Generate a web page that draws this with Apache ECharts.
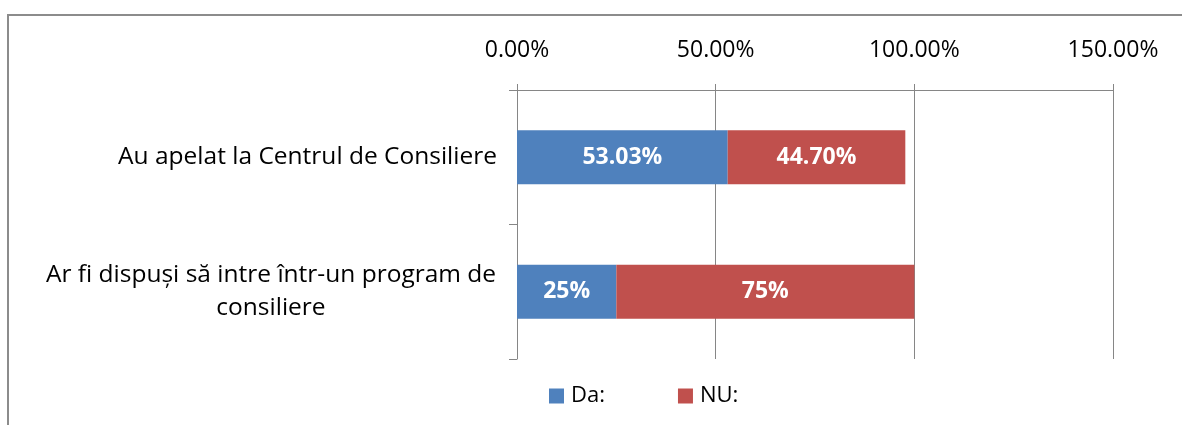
<!DOCTYPE html>
<html lang="ro">
	<head>
		<meta charset="UTF-8">
		<title>Consiliere</title>
		<style>
			html, body { margin: 0; padding: 0; background: #fff; }
		</style>
	</head>
	<body>
		<div id="main" style="width:1182px; height:425px;"></div>
		<script src="https://cdn.jsdelivr.net/npm/echarts@6/dist/echarts.min.js"></script>
		<script type="text/javascript">
			// date
			var categorii = ['Au apelat la Centrul de Consiliere', 'Ar fi dispuşi să intre într-un program de consiliere'];
			var da = [53.03, 25];
			var nu = [44.70, 75];
			var numeSerii = ['Da:', 'NU:'];
			var ticks = [0, 50, 100, 150];

			var font = '"Open Sans", Lato, sans-serif';
			var gri = '#868686';

			function eticheta(p) {
				var v = p.value;
				return (Number.isInteger(v) ? v : v.toFixed(2)) + '%';
			}

			var myChart = echarts.init(document.getElementById('main'));
			myChart.setOption({
				backgroundColor: '#fff',
				animation: false,
				textStyle: { fontFamily: font },
				graphic: [{
					type: 'polyline',
					shape: { points: [[8, 425], [8, 15], [1182, 15]] },
					style: { stroke: '#8c8c8c', lineWidth: 2, fill: null }
				}],
				grid: { left: 517, right: 69, top: 90, bottom: 66 },
				legend: {
					data: numeSerii,
					left: 549,
					top: 385,
					padding: 0,
					icon: 'rect',
					itemWidth: 15,
					itemHeight: 15,
					itemGap: 73,
					textStyle: { fontSize: 22, color: '#000', fontFamily: font, padding: [0, 0, 0, 2] }
				},
				xAxis: {
					type: 'value',
					position: 'top',
					min: ticks[0],
					max: ticks[ticks.length - 1],
					interval: 50,
					axisLine: { show: true, lineStyle: { color: gri, width: 1 } },
					axisTick: { show: true, length: 6, lineStyle: { color: gri } },
					splitLine: { show: true, lineStyle: { color: gri, width: 1 } },
					axisLabel: {
						margin: 28,
						fontSize: 23,
						color: '#000',
						fontFamily: font,
						formatter: function (v) { return v.toFixed(2) + '%'; }
					}
				},
				yAxis: {
					type: 'category',
					inverse: true,
					data: categorii,
					axisLine: { show: true, lineStyle: { color: gri, width: 1 } },
					axisTick: { show: true, length: 8, lineStyle: { color: gri } },
					axisLabel: {
						margin: 20,
						color: '#000',
						fontFamily: font,
						formatter: function (v, i) {
							if (i === 1) {
								return '{c|Ar fi dispuşi să intre într-un program de}\n{c|consiliere}';
							}
							return '{r|' + v + '}';
						},
						rich: {
							r: { fontSize: 24.5, fontFamily: font, color: '#000' },
							c: { fontSize: 24.5, fontFamily: font, color: '#000', width: 452, align: 'center', lineHeight: 33 }
						}
					}
				},
				series: [{
					name: numeSerii[0],
					type: 'bar',
					stack: 'total',
					barWidth: 54,
					itemStyle: { color: '#4F81BD' },
					label: { show: true, position: 'inside', color: '#fff', fontWeight: 'bold', fontSize: 23, fontFamily: font, formatter: eticheta },
					data: da
				}, {
					name: numeSerii[1],
					type: 'bar',
					stack: 'total',
					barWidth: 54,
					itemStyle: { color: '#C0504D' },
					label: { show: true, position: 'inside', color: '#fff', fontWeight: 'bold', fontSize: 23, fontFamily: font, formatter: eticheta },
					data: nu
				}]
			});
		</script>
	</body>
</html>
